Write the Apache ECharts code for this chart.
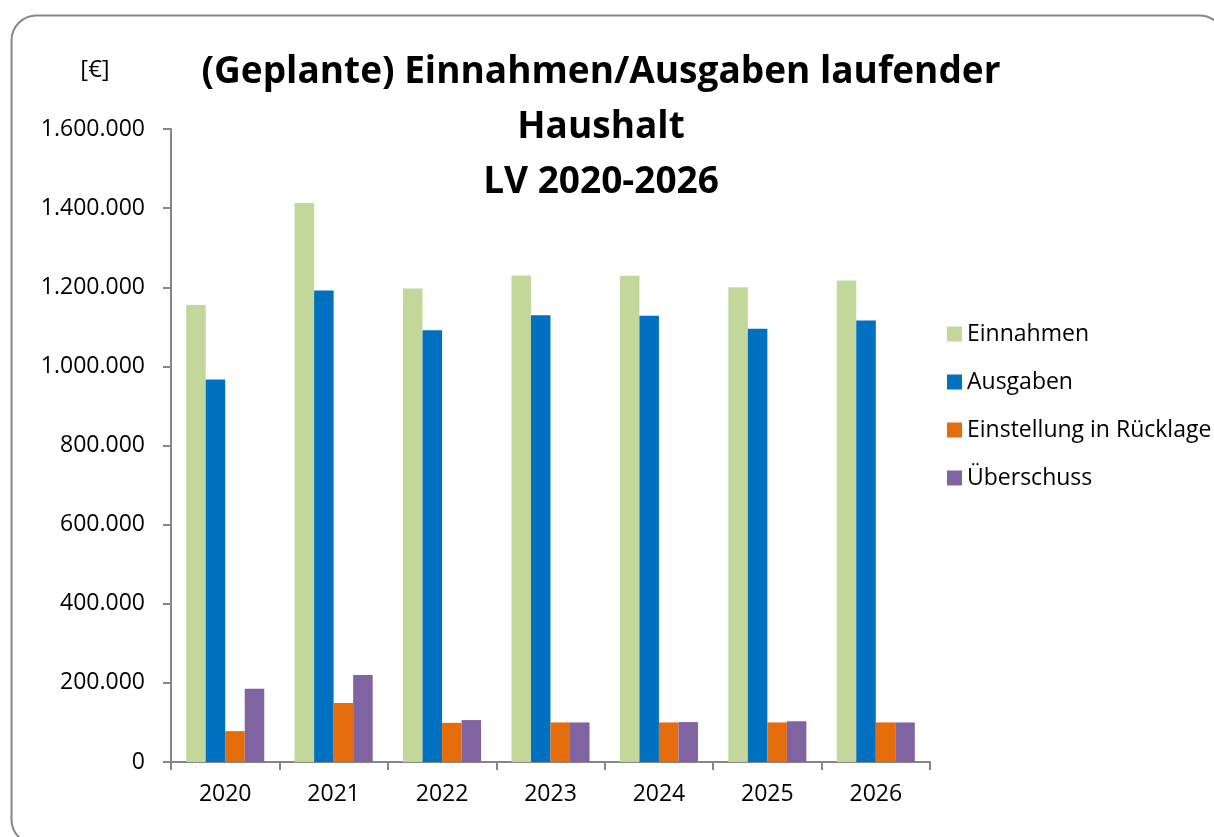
<!DOCTYPE html>
<html>
<head>
<meta charset="utf-8">
<script src="https://cdn.jsdelivr.net/npm/echarts@6/dist/echarts.min.js"></script>
<style>
html,body{margin:0;padding:0;background:#fff;}
#chart{width:1214px;height:837px;}
</style>
</head>
<body>
<div id="chart"></div>
<script>
const categories = ['2020','2021','2022','2023','2024','2025','2026'];
const einnahmen = [1155000, 1413000, 1197000, 1230000, 1229000, 1200000, 1217000];
const ausgaben = [967000, 1192000, 1091000, 1129000, 1128000, 1095000, 1116000];
const ruecklage = [78000, 149000, 99000, 100000, 100000, 100000, 100000];
const ueberschuss = [185000, 220000, 106000, 100000, 101000, 103000, 100000];
const seriesNames = ['Einnahmen','Ausgaben','Einstellung in Rücklage','Überschuss'];
const colors = ['#C4D79B','#0070C0','#E46C0A','#8064A2'];

const FONT = '"Open Sans", "Noto Sans", sans-serif';
const fmt = v => String(v).replace(/\B(?=(\d{3})+(?!\d))/g, '.');

const chart = echarts.init(document.getElementById('chart'), null, {renderer:'canvas'});
const dataSets = [einnahmen, ausgaben, ruecklage, ueberschuss];
chart.setOption({
  animation:false,
  backgroundColor:'#fff',
  graphic:[{
    type:'rect', left:9, top:13, silent:true,
    shape:{width:1213, height:829, r:25},
    style:{fill:'none', stroke:'#878787', lineWidth:2}
  }],
  title:[{
    text:'(Geplante) Einnahmen/Ausgaben laufender\nHaushalt\nLV 2020-2026',
    left:596, top:40, textAlign:'center',
    textStyle:{fontFamily:FONT, fontWeight:'bold', fontSize:37, lineHeight:55, color:'#000'}
  },{
    text:'[€]', left:90, top:53, textAlign:'center',
    textStyle:{fontFamily:FONT, fontWeight:'normal', fontSize:24, color:'#000'}
  }],
  legend:{
    orient:'vertical', left:942, top:317,
    itemWidth:15, itemHeight:15, itemGap:24, icon:'rect',
    textStyle:{fontFamily:FONT, fontSize:23, color:'#000', lineHeight:24},
    data:seriesNames
  },
  grid:{left:171, right:284, top:129, bottom:75, containLabel:false},
  xAxis:{
    type:'category', data:categories,
    axisLine:{lineStyle:{color:'#868686', width:2}},
    axisTick:{show:true, alignWithLabel:false, length:8, lineStyle:{color:'#868686', width:2}},
    axisLabel:{fontFamily:FONT, fontSize:23, color:'#000', margin:21}
  },
  yAxis:{
    type:'value', min:0, max:1600000, interval:200000,
    axisLine:{show:true, lineStyle:{color:'#868686', width:2}},
    axisTick:{show:true, length:8, lineStyle:{color:'#868686', width:2}},
    splitLine:{show:false},
    axisLabel:{fontFamily:FONT, fontSize:23, color:'#000', margin:26, formatter:fmt}
  },
  series: seriesNames.map((n,i)=>({
    name:n, type:'bar', data:dataSets[i],
    barGap:'0%', barCategoryGap:'28%',
    itemStyle:{color:colors[i]}
  }))
});
</script>
</body>
</html>
